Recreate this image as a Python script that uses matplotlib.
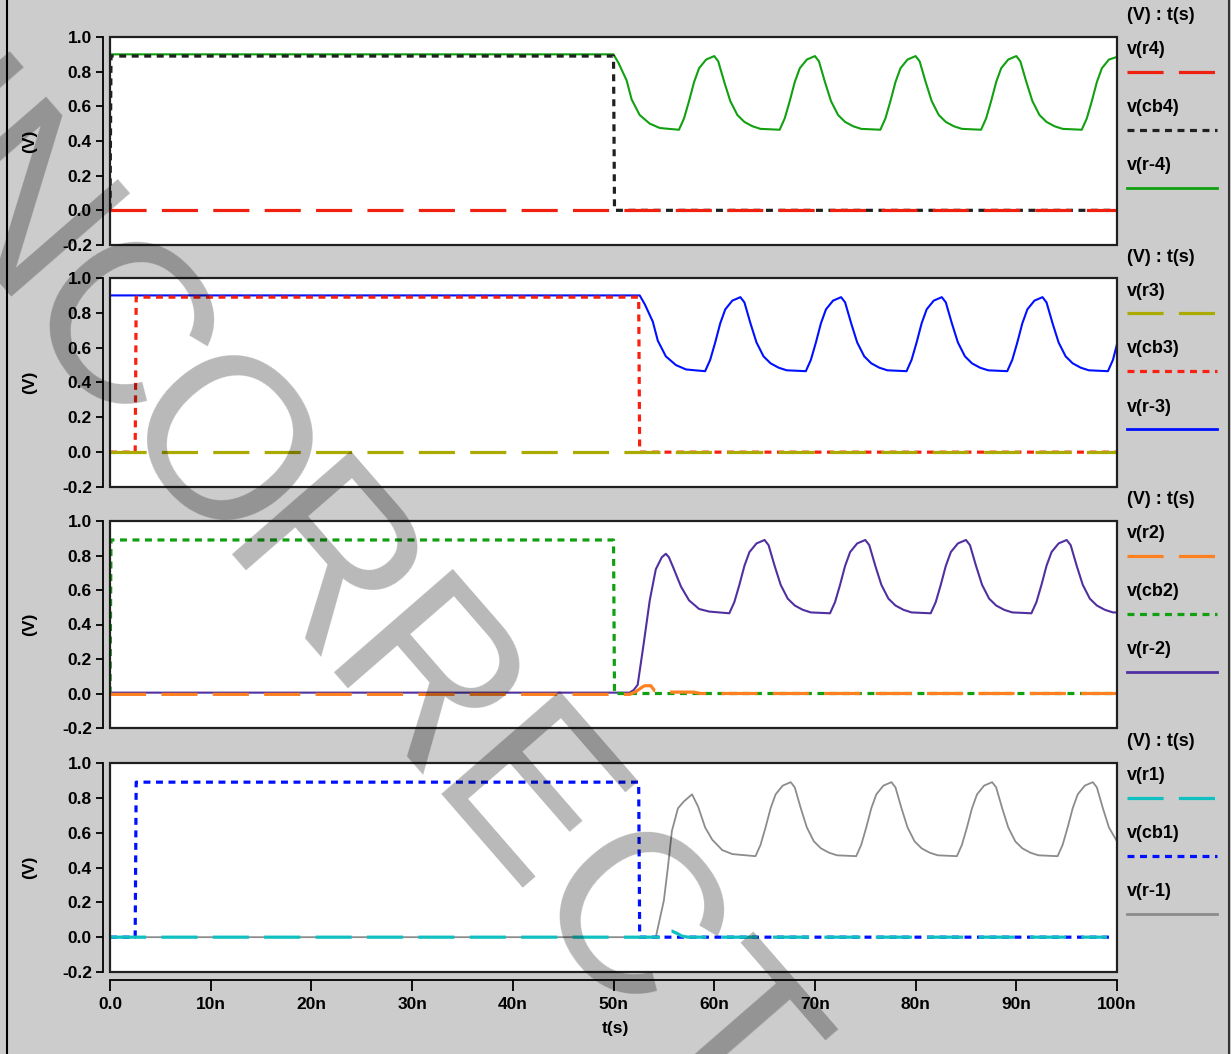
import matplotlib
matplotlib.use("Agg")
import matplotlib.pyplot as plt
from matplotlib.patches import Rectangle
from matplotlib.lines import Line2D

W, H = 1231, 1054
plt.rcParams['font.family'] = ['Liberation Sans', 'DejaVu Sans']
plt.rcParams['font.weight'] = 'bold'
plt.rcParams['lines.scale_dashes'] = False

# ---- data (time in ns, voltage in V) ----
# panel 1
t_r4 = [0, 100]
v_r4 = [0, 0]
t_cb4 = [0, 0.1, 50.0, 50.1, 100]
v_cb4 = [0, 0.89, 0.89, 0, 0]
t_rm4 = [0, 50.0, 50.5, 51.3, 51.8, 52.6, 53.6, 54.6, 55.5,
         56.5, 57.0, 57.5, 58.0, 58.5, 59.2, 60.0, 60.4, 61.0, 61.6, 62.3, 63.0, 63.8, 64.6,
         66.5, 67.0, 67.5, 68.0, 68.5, 69.2, 70.0, 70.4, 71.0, 71.6, 72.3, 73.0, 73.8, 74.6,
         76.5, 77.0, 77.5, 78.0, 78.5, 79.2, 80.0, 80.4, 81.0, 81.6, 82.3, 83.0, 83.8, 84.6,
         86.5, 87.0, 87.5, 88.0, 88.5, 89.2, 90.0, 90.4, 91.0, 91.6, 92.3, 93.0, 93.8, 94.6,
         96.5, 97.0, 97.5, 98.0, 98.5, 99.2, 100.0]
v_rm4 = [0.9, 0.9, 0.85, 0.75, 0.64, 0.55, 0.50, 0.475, 0.47,
         0.465, 0.53, 0.63, 0.74, 0.82, 0.87, 0.89, 0.86, 0.74, 0.63, 0.55, 0.51, 0.485, 0.47,
         0.465, 0.53, 0.63, 0.74, 0.82, 0.87, 0.89, 0.86, 0.74, 0.63, 0.55, 0.51, 0.485, 0.47,
         0.465, 0.53, 0.63, 0.74, 0.82, 0.87, 0.89, 0.86, 0.74, 0.63, 0.55, 0.51, 0.485, 0.47,
         0.465, 0.53, 0.63, 0.74, 0.82, 0.87, 0.89, 0.86, 0.74, 0.63, 0.55, 0.51, 0.485, 0.47,
         0.465, 0.53, 0.63, 0.74, 0.82, 0.87, 0.885]

# panel 2
t_r3 = [0, 100]
v_r3 = [0, 0]
t_cb3 = [0, 2.5, 2.6, 52.5, 52.6, 100]
v_cb3 = [0, 0, 0.89, 0.89, 0, 0]
t_rm3 = [0, 52.6, 53.1, 53.9, 54.4, 55.2, 56.2, 57.2, 58.1,
         59.1, 59.6, 60.1, 60.6, 61.1, 61.8, 62.6, 63.0, 63.6, 64.2, 64.9, 65.6, 66.4, 67.2,
         69.1, 69.6, 70.1, 70.6, 71.1, 71.8, 72.6, 73.0, 73.6, 74.2, 74.9, 75.6, 76.4, 77.2,
         79.1, 79.6, 80.1, 80.6, 81.1, 81.8, 82.6, 83.0, 83.6, 84.2, 84.9, 85.6, 86.4, 87.2,
         89.1, 89.6, 90.1, 90.6, 91.1, 91.8, 92.6, 93.0, 93.6, 94.2, 94.9, 95.6, 96.4, 97.2,
         99.1, 99.6, 100.0]
v_rm3 = [0.9, 0.9, 0.85, 0.75, 0.64, 0.55, 0.50, 0.475, 0.47,
         0.465, 0.53, 0.63, 0.74, 0.82, 0.87, 0.89, 0.86, 0.74, 0.63, 0.55, 0.51, 0.485, 0.47,
         0.465, 0.53, 0.63, 0.74, 0.82, 0.87, 0.89, 0.86, 0.74, 0.63, 0.55, 0.51, 0.485, 0.47,
         0.465, 0.53, 0.63, 0.74, 0.82, 0.87, 0.89, 0.86, 0.74, 0.63, 0.55, 0.51, 0.485, 0.47,
         0.465, 0.53, 0.63, 0.74, 0.82, 0.87, 0.89, 0.86, 0.74, 0.63, 0.55, 0.51, 0.485, 0.47,
         0.465, 0.53, 0.62]

# panel 3
t_r2 = [0, 51.6, 52.2, 52.8, 53.1, 53.7, 54.1, 54.6, 58.0, 58.6, 100]
v_r2 = [-0.005, -0.005, 0.01, 0.035, 0.045, 0.045, 0.015, 0.008, 0.008, 0.0, 0.0]
t_cb2 = [0, 0.1, 50.0, 50.1, 100]
v_cb2 = [0, 0.89, 0.89, 0, 0]
t_rm2 = [0, 51.6, 52.0, 52.4, 53.0, 53.6, 54.2, 54.8, 55.2, 55.5, 55.9, 56.7, 57.5, 58.5, 59.5,
         61.5, 62.0, 62.5, 63.0, 63.5, 64.2, 65.0, 65.4, 66.0, 66.6, 67.3, 68.0, 68.8, 69.6,
         71.5, 72.0, 72.5, 73.0, 73.5, 74.2, 75.0, 75.4, 76.0, 76.6, 77.3, 78.0, 78.8, 79.6,
         81.5, 82.0, 82.5, 83.0, 83.5, 84.2, 85.0, 85.4, 86.0, 86.6, 87.3, 88.0, 88.8, 89.6,
         91.5, 92.0, 92.5, 93.0, 93.5, 94.2, 95.0, 95.4, 96.0, 96.6, 97.3, 98.0, 98.8, 99.6, 100.0]
v_rm2 = [0.005, 0.005, 0.02, 0.05, 0.29, 0.54, 0.72, 0.79, 0.81, 0.79, 0.735, 0.62, 0.54, 0.49, 0.475,
         0.465, 0.53, 0.63, 0.74, 0.82, 0.87, 0.89, 0.86, 0.74, 0.63, 0.55, 0.51, 0.485, 0.47,
         0.465, 0.53, 0.63, 0.74, 0.82, 0.87, 0.89, 0.86, 0.74, 0.63, 0.55, 0.51, 0.485, 0.47,
         0.465, 0.53, 0.63, 0.74, 0.82, 0.87, 0.89, 0.86, 0.74, 0.63, 0.55, 0.51, 0.485, 0.47,
         0.465, 0.53, 0.63, 0.74, 0.82, 0.87, 0.89, 0.86, 0.74, 0.63, 0.55, 0.51, 0.485, 0.47, 0.47]

# panel 4
t_r1 = [0, 55.0, 55.3, 55.8, 56.3, 56.8, 57.4, 99.0]
v_r1 = [0, 0, 0.035, 0.035, 0.022, 0.006, 0.0, 0.0]
t_cb1 = [0, 2.5, 2.6, 52.5, 52.6, 99.4]
v_cb1 = [0, 0, 0.89, 0.89, 0, 0]
t_rm1 = [0, 54.2, 55.0, 55.4, 55.8, 56.4, 57.0, 57.8, 58.4, 59.1, 59.8, 60.8, 61.8,
         64.1, 64.6, 65.1, 65.6, 66.1, 66.8, 67.6, 68.0, 68.6, 69.2, 69.9, 70.6, 71.4, 72.2,
         74.1, 74.6, 75.1, 75.6, 76.1, 76.8, 77.6, 78.0, 78.6, 79.2, 79.9, 80.6, 81.4, 82.2,
         84.1, 84.6, 85.1, 85.6, 86.1, 86.8, 87.6, 88.0, 88.6, 89.2, 89.9, 90.6, 91.4, 92.2,
         94.1, 94.6, 95.1, 95.6, 96.1, 96.8, 97.6, 98.0, 98.6, 99.2, 100.0]
v_rm1 = [0, 0, 0.21, 0.40, 0.61, 0.74, 0.78, 0.82, 0.75, 0.63, 0.56, 0.50, 0.477,
         0.465, 0.53, 0.63, 0.74, 0.82, 0.87, 0.89, 0.86, 0.74, 0.63, 0.55, 0.51, 0.485, 0.47,
         0.465, 0.53, 0.63, 0.74, 0.82, 0.87, 0.89, 0.86, 0.74, 0.63, 0.55, 0.51, 0.485, 0.47,
         0.465, 0.53, 0.63, 0.74, 0.82, 0.87, 0.89, 0.86, 0.74, 0.63, 0.55, 0.51, 0.485, 0.47,
         0.465, 0.53, 0.63, 0.74, 0.82, 0.87, 0.89, 0.86, 0.74, 0.63, 0.55]

x_ticks = [0, 10, 20, 30, 40, 50, 60, 70, 80, 90, 100]
x_labels = ['0.0', '10n', '20n', '30n', '40n', '50n', '60n', '70n', '80n', '90n', '100n']
y_ticks = [-0.2, 0.0, 0.2, 0.4, 0.6, 0.8, 1.0]
y_labels = ['-0.2', '0.0', '0.2', '0.4', '0.6', '0.8', '1.0']

watermark = 'INCORRECT'
# letter slot along the diagonal, counted from the "O"
wm_slots = [-2.7, -2, -1, 0, 1, 2, 3, 4, 5]

DASH = (0, (26, 11))
DOT = (0, (5, 4))

# each panel: (top px, bottom px, [(name, t, v, color, style, lw), ...] in legend order)
panels = [
    (37, 245, [('v(r4)', t_r4, v_r4, '#f02010', DASH, 2.3),
               ('v(cb4)', t_cb4, v_cb4, '#202020', DOT, 2.3),
               ('v(r-4)', t_rm4, v_rm4, '#10a010', '-', 1.5)]),
    (278, 487, [('v(r3)', t_r3, v_r3, '#aaaa00', DASH, 2.3),
                ('v(cb3)', t_cb3, v_cb3, '#f82010', DOT, 2.3),
                ('v(r-3)', t_rm3, v_rm3, '#0010ff', '-', 1.5)]),
    (521, 728, [('v(r2)', t_r2, v_r2, '#ff8020', DASH, 2.3),
                ('v(cb2)', t_cb2, v_cb2, '#10a010', DOT, 2.3),
                ('v(r-2)', t_rm2, v_rm2, '#5030a0', '-', 1.5)]),
    (763, 972, [('v(r1)', t_r1, v_r1, '#10c0c0', DASH, 2.3),
                ('v(cb1)', t_cb1, v_cb1, '#0010ff', DOT, 2.3),
                ('v(r-1)', t_rm1, v_rm1, '#8c8c8c', '-', 1.3)]),
]

FS = 12.5      # tick labels
LFS = 13       # legend texts
fig = plt.figure(figsize=(W / 100, H / 100), dpi=100, facecolor='#cccccc')

for i, (top, bot, series) in enumerate(panels):
    ax = fig.add_axes([110 / W, 1 - bot / H, 1007 / W, (bot - top) / H])
    ax.set_facecolor('white')
    # solid first, dashed last (dashed lies on top of dotted)
    for name, t, v, c, ls, lw in reversed(series):
        ax.plot(t, v, color=c, linestyle=ls, linewidth=lw)
    ax.set_xlim(0, 100)
    ax.set_ylim(-0.2, 1.0)
    for s in ['top', 'right', 'bottom']:
        ax.spines[s].set_visible(False)
    ax.spines['left'].set_position(('outward', 5))
    ax.spines['left'].set_linewidth(1.3)
    ax.add_patch(Rectangle((0, 0), 1, 1, transform=ax.transAxes, fill=False,
                           ec='#202020', lw=1.6, zorder=5, clip_on=False))
    ax.set_yticks(y_ticks)
    ax.set_yticklabels(y_labels, fontsize=FS, fontweight='bold')
    ax.tick_params(axis='y', length=5, width=1.3, pad=3)
    if i == 3:
        ax.spines['bottom'].set_visible(True)
        ax.spines['bottom'].set_position(('outward', 6))
        ax.spines['bottom'].set_linewidth(1.3)
        ax.set_xticks(x_ticks)
        ax.set_xticklabels(x_labels, fontsize=FS, fontweight='bold')
        ax.tick_params(axis='x', length=8, width=1.3, pad=4)
    else:
        ax.set_xticks([])

    fig.text(30 / W, 1 - (top + bot) / 2 / H, '(V)', rotation=90, ha='center', va='center',
             fontsize=FS, fontweight='bold')

    # legend block on the right
    fig.text(1127 / W, 1 - (top - 21) / H, '(V) : t(s)', ha='left', va='center',
             fontsize=LFS, fontweight='bold')
    for k, (name, t, v, c, ls, lw) in enumerate(series):
        ty = top + 13 + 58 * k
        ly = top + 35 + 58 * k
        fig.text(1127 / W, 1 - ty / H, name, ha='left', va='center', fontsize=LFS, fontweight='bold')
        fig.add_artist(Line2D([1127 / W, 1217 / W], [1 - ly / H, 1 - ly / H], color=c,
                              linestyle=ls, linewidth=lw if ls != '-' else 2.0,
                              transform=fig.transFigure))

fig.text(615 / W, 1 - 1028 / H, 't(s)', ha='center', va='center', fontsize=FS, fontweight='bold')

# window borders
fig.add_artist(Line2D([7 / W, 7 / W], [0, 1], color='black', lw=1.5, transform=fig.transFigure))
fig.add_artist(Line2D([1229 / W, 1229 / W], [0, 1], color='#333333', lw=1.5, transform=fig.transFigure))

# watermark, one letter at a time along the diagonal
ox, oy, dx, dy = 210, 458, 102, 118
for ch, k in zip(watermark, wm_slots):
    fig.text((ox + k * dx) / W, 1 - (oy + k * dy) / H, ch, rotation=-49, rotation_mode='anchor',
             ha='center', va='center', fontsize=165, fontweight='normal', color='black',
             alpha=0.28, zorder=100)

fig.savefig('out.png', dpi=100, facecolor=fig.get_facecolor())
